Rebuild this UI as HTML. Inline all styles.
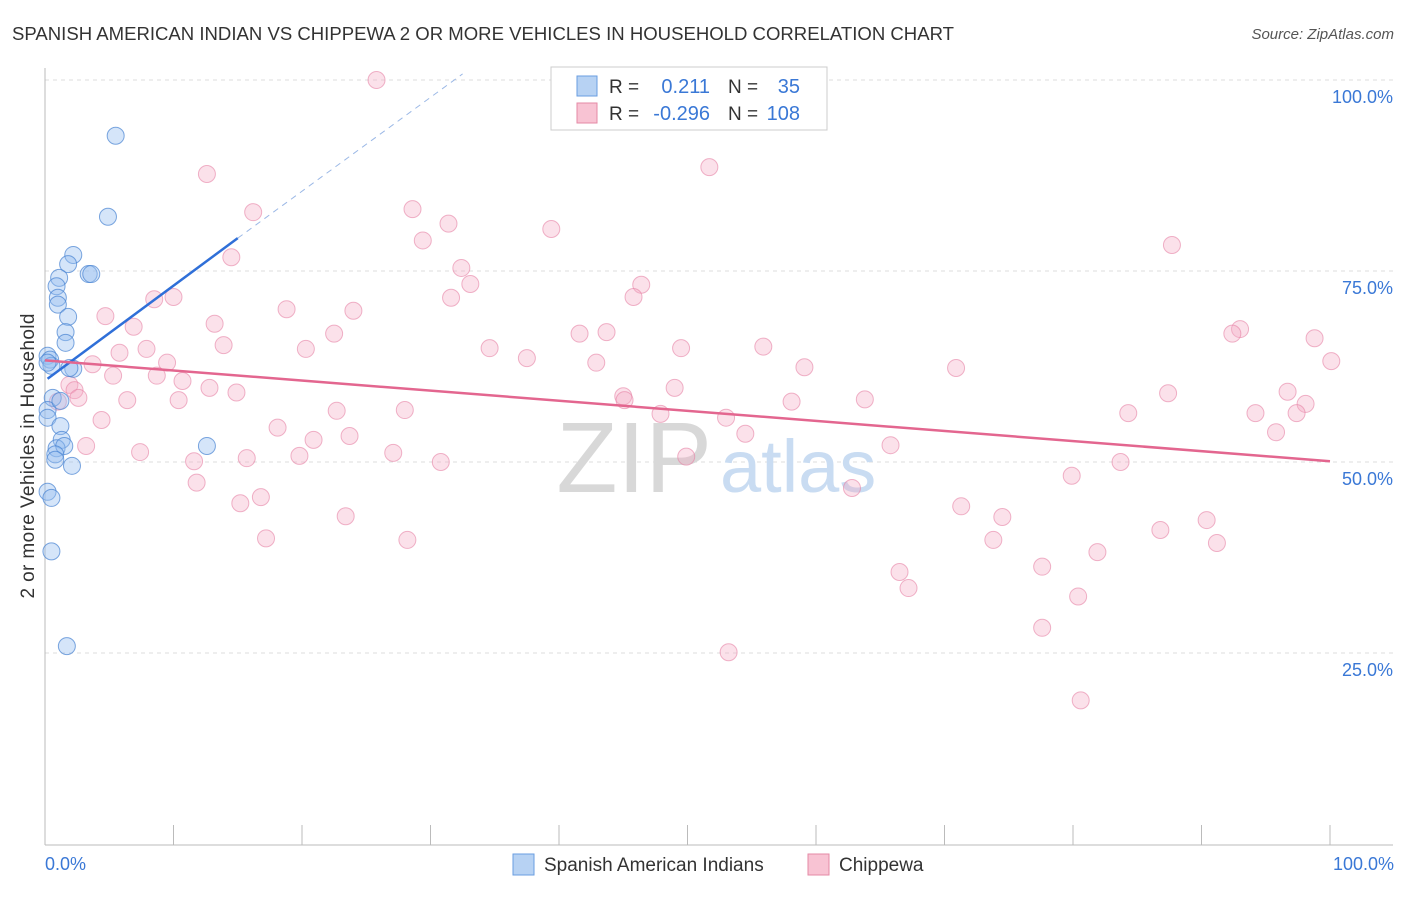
<!DOCTYPE html>
<html><head><meta charset="utf-8"><style>
body{margin:0;background:#fff;font-family:"Liberation Sans",sans-serif;}
svg text{font-family:"Liberation Sans",sans-serif;}
</style></head><body>
<svg id="c" width="1406" height="892" viewBox="0 0 1406 892">
<text x="12" y="40" font-size="18" fill="#333" textLength="942" lengthAdjust="spacingAndGlyphs">SPANISH AMERICAN INDIAN VS CHIPPEWA 2 OR MORE VEHICLES IN HOUSEHOLD CORRELATION CHART</text>
<text x="1394" y="39" font-size="15" fill="#555" text-anchor="end" font-style="italic">Source: ZipAtlas.com</text>
<g id="grid"></g>
<text x="712" y="492" font-size="100" fill="#d8d8d8" text-anchor="end" font-family="Liberation Serif">ZIP</text>
<text x="720" y="492" font-size="74" fill="#c9dcf2">atlas</text>
<g id="marks"></g>
<text transform="translate(34,456) rotate(-90)" font-size="19" fill="#333" text-anchor="middle" textLength="285">2 or more Vehicles in Household</text>
<text x="45" y="870" font-size="18" fill="#3a78d6">0.0%</text>
<text x="1394" y="870" font-size="18" fill="#3a78d6" text-anchor="end">100.0%</text>
<g>
<rect x="551" y="67" width="276" height="63" fill="#fff" stroke="#ccc"/>
<rect x="577" y="76" width="20" height="20" fill="#b7d2f3" stroke="#6a9ee0"/>
<rect x="577" y="103" width="20" height="20" fill="#f8c3d3" stroke="#e58aa6"/>
<text x="609" y="93" font-size="19" fill="#333">R =</text><text x="710" y="93" font-size="20" fill="#3a78d6" text-anchor="end">0.211</text>
<text x="728" y="93" font-size="19" fill="#333">N =</text><text x="800" y="93" font-size="20" fill="#3a78d6" text-anchor="end">35</text>
<text x="609" y="120" font-size="19" fill="#333">R =</text><text x="710" y="120" font-size="20" fill="#3a78d6" text-anchor="end">-0.296</text>
<text x="728" y="120" font-size="19" fill="#333">N =</text><text x="800" y="120" font-size="20" fill="#3a78d6" text-anchor="end">108</text>
</g>
<g>
<rect x="513" y="854" width="21" height="21" fill="#b7d2f3" stroke="#6a9ee0"/>
<text x="544" y="871" font-size="19" fill="#333">Spanish American Indians</text>
<rect x="808" y="854" width="21" height="21" fill="#f8c3d3" stroke="#e58aa6"/>
<text x="839" y="871" font-size="19" fill="#333">Chippewa</text>
</g>
</svg>
<script>
const yTicks=[25,50,75,100];
const yTickLabels=["25.0%","50.0%","75.0%","100.0%"];
const xTicks=[10,20,30,40,50,60,70,80,90,100];
const blueX=[5.5,4.9,2.2,1.8,1.1,0.9,3.4,3.6,1.0,1.0,1.8,1.6,1.6,0.2,0.4,0.5,2.2,1.9,0.6,0.2,0.2,1.2,1.3,0.9,1.5,0.8,2.1,0.8,0.2,0.5,0.5,1.7,12.6,0.2,1.2];
const blueY=[92.7,82.1,77.1,75.9,74.1,73.0,74.6,74.6,71.5,70.6,69.0,67.0,65.6,63.9,63.4,62.6,62.2,62.3,58.4,56.8,55.8,54.7,52.9,51.8,52.1,51.0,49.5,50.3,46.1,45.3,38.3,25.9,52.1,63.0,58.0];
const pinkX=[25.8,12.6,51.7,16.2,28.6,31.4,39.4,29.4,14.5,87.7,32.4,33.1,31.6,46.4,45.8,8.5,10.0,18.8,24.0,4.7,6.9,13.2,22.5,93.0,92.4,98.8,41.6,43.7,13.9,20.3,34.6,49.5,55.9,7.9,5.8,37.5,100.1,9.5,3.7,42.9,70.9,59.1,5.3,8.7,10.7,12.8,1.9,2.3,1.0,2.6,14.9,49.0,45.0,45.1,6.4,10.4,96.7,87.4,63.8,58.1,98.1,28.0,22.7,47.9,94.2,84.3,97.4,53.0,4.4,18.1,23.7,20.9,95.8,54.5,65.8,3.2,7.4,27.1,15.7,19.8,11.6,30.8,49.9,83.7,79.9,11.8,62.8,16.8,15.2,71.3,23.4,74.5,90.4,86.8,73.8,17.2,28.2,91.2,81.9,77.6,66.5,67.2,80.4,77.6,53.2,80.6];
const pinkY=[100.0,87.7,88.6,82.7,83.1,81.2,80.5,79.0,76.8,78.4,75.4,73.3,71.5,73.2,71.6,71.3,71.6,70.0,69.8,69.1,67.7,68.1,66.8,67.4,66.8,66.2,66.8,67.0,65.3,64.8,64.9,64.9,65.1,64.8,64.3,63.6,63.2,63.0,62.8,63.0,62.3,62.4,61.3,61.3,60.6,59.7,60.1,59.4,57.9,58.4,59.1,59.7,58.6,58.1,58.1,58.1,59.2,59.0,58.2,57.9,57.6,56.8,56.7,56.3,56.4,56.4,56.4,55.8,55.5,54.5,53.4,52.9,53.9,53.7,52.2,52.1,51.3,51.2,50.5,50.8,50.1,50.0,50.7,50.0,48.2,47.3,46.6,45.4,44.6,44.2,42.9,42.8,42.4,41.1,39.8,40.0,39.8,39.4,38.2,36.3,35.6,33.5,32.4,28.3,25.1,18.8];
const blueLine=[[0.2,60.9],[15.0,79.3],[32.5,100.8]];
const pinkLine=[[0,63.3],[100,50.1]];
const X=v=>45+v*12.85, Y=v=>844-v*7.64;
const NS="http://www.w3.org/2000/svg";
const svg=document.getElementById('c'),grid=document.getElementById('grid'),marks=document.getElementById('marks');
function mk(t,a,p){const e=document.createElementNS(NS,t);for(const k in a)e.setAttribute(k,a[k]);(p||svg).appendChild(e);return e;}
yTicks.forEach((t,i)=>{
 const l=mk('line',{x1:45,x2:1393,y1:Y(t),y2:Y(t),stroke:'#ddd','stroke-dasharray':'4,4'},grid);
 
 
 const tx=mk('text',{x:1393,y:Y(t)+23,'font-size':18,fill:'#3a78d6','text-anchor':'end'},grid);tx.textContent=yTickLabels[i];
 
 
});
const a1=mk('line',{x1:45,x2:45,y1:68,y2:845,stroke:'#bbb'},grid);


const a2=mk('line',{x1:45,x2:1393,y1:845,y2:845,stroke:'#bbb'},grid);


xTicks.forEach(t=>{const l=mk('line',{x1:X(t),x2:X(t),y1:825,y2:845,stroke:'#bbb'},grid);
 
 });
pinkX.forEach((v,i)=>{const c=mk('circle',{cx:X(v),cy:Y(pinkY[i]),r:8.5,fill:'rgba(244,170,195,0.35)',stroke:'rgba(230,130,165,0.6)','stroke-width':1},marks);
 
 });
blueX.forEach((v,i)=>{const c=mk('circle',{cx:X(v),cy:Y(blueY[i]),r:8.5,fill:'rgba(150,190,240,0.4)',stroke:'rgba(70,130,210,0.7)','stroke-width':1},marks);
 
 });
const bl=mk('line',{x1:X(blueLine[0][0]),y1:Y(blueLine[0][1]),x2:X(blueLine[1][0]),y2:Y(blueLine[1][1]),stroke:'#2f6fd8','stroke-width':2.5},marks);


const bd=mk('line',{x1:X(blueLine[1][0]),y1:Y(blueLine[1][1]),x2:X(blueLine[2][0]),y2:Y(blueLine[2][1]),stroke:'#9bb8e6','stroke-width':1,'stroke-dasharray':'6,5'},marks);


const pl=mk('line',{x1:X(pinkLine[0][0]),y1:Y(pinkLine[0][1]),x2:X(pinkLine[1][0]),y2:Y(pinkLine[1][1]),stroke:'#e3668f','stroke-width':2.5},marks);


</script>
</body></html>
